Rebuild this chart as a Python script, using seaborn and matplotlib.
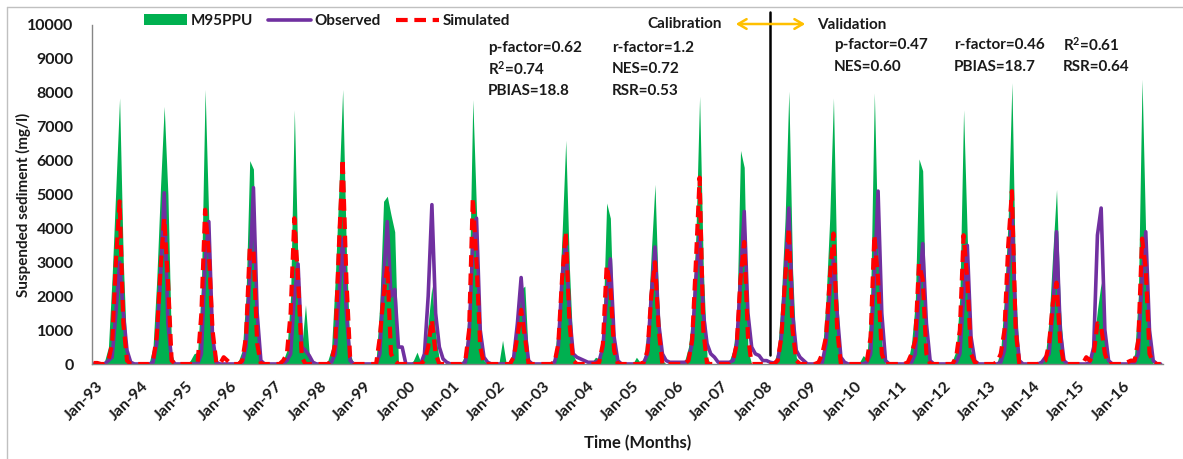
import numpy as np
import pandas as pd
import matplotlib
matplotlib.use("Agg")
import matplotlib.pyplot as plt
import matplotlib.transforms as mtransforms
import seaborn as sns
from matplotlib.patches import Patch, FancyArrowPatch
from matplotlib.lines import Line2D

# Monthly suspended sediment (mg/l), Jan 1993 - Dec 2016, one row per year (Jan..Dec)
years = list(range(1993, 2017))

upper_95ppu = [
    [0, 0, 0, 100, 500, 2600, 5200, 7850, 3000, 200, 0, 0],      # 1993
    [0, 0, 0, 50, 500, 2500, 5200, 7600, 5000, 300, 0, 0],       # 1994
    [0, 0, 100, 300, 350, 2300, 8100, 4200, 600, 0, 0, 0],       # 1995
    [0, 0, 0, 100, 400, 2000, 6000, 5750, 1200, 0, 0, 0],        # 1996
    [0, 0, 0, 100, 400, 2000, 7500, 2800, 500, 1750, 300, 0],    # 1997
    [0, 0, 0, 100, 450, 2500, 5200, 8100, 3300, 300, 0, 0],      # 1998
    [0, 0, 0, 0, 100, 1800, 4800, 4950, 4400, 3900, 0, 0],       # 1999
    [0, 0, 100, 350, 50, 300, 1200, 2300, 900, 100, 0, 0],       # 2000
    [0, 0, 0, 50, 300, 2000, 7800, 4500, 1300, 100, 0, 0],       # 2001
    [0, 0, 700, 0, 0, 400, 1200, 2200, 2300, 100, 0, 0],         # 2002
    [0, 0, 0, 0, 200, 1400, 3800, 6600, 2800, 300, 0, 0],        # 2003
    [0, 0, 50, 200, 150, 1100, 4750, 4300, 700, 0, 0, 0],        # 2004
    [0, 0, 200, 50, 150, 1100, 3300, 5300, 1800, 100, 0, 0],     # 2005
    [0, 0, 0, 100, 500, 1500, 3800, 7900, 2800, 200, 0, 0],      # 2006
    [0, 0, 0, 100, 400, 1300, 6300, 5800, 400, 0, 0, 0],         # 2007
    [0, 0, 0, 50, 400, 2000, 4300, 8050, 2800, 200, 0, 0],       # 2008
    [0, 0, 0, 50, 300, 1900, 4300, 7850, 2300, 100, 0, 0],       # 2009
    [0, 0, 50, 250, 150, 2000, 8000, 3300, 600, 0, 0, 0],        # 2010
    [0, 0, 0, 50, 600, 1800, 6050, 5700, 600, 0, 0, 0],          # 2011
    [0, 0, 0, 100, 400, 2000, 7500, 3700, 400, 0, 0, 0],         # 2012
    [0, 0, 0, 50, 400, 2000, 4300, 8300, 2300, 100, 0, 0],       # 2013
    [0, 0, 0, 100, 250, 1300, 3300, 5150, 1700, 100, 0, 0],      # 2014
    [0, 0, 0, 0, 100, 600, 1600, 2400, 900, 0, 0, 0],            # 2015
    [0, 0, 0, 50, 300, 2000, 8400, 3700, 600, 0, 0, 0],          # 2016
]

observed = [
    [0, 0, 0, 0, 100, 200, 1500, 3000, 1500, 400, 50, 0],        # 1993
    [0, 0, 0, 0, 50, 600, 2500, 5050, 1200, 100, 0, 0],          # 1994
    [0, 0, 0, 0, 0, 300, 3000, 4200, 800, 50, 0, 0],             # 1995
    [0, 0, 0, 0, 50, 500, 2500, 5200, 1500, 100, 0, 0],          # 1996
    [0, 0, 0, 0, 100, 300, 2000, 2950, 500, 400, 250, 50],       # 1997
    [0, 0, 0, 0, 50, 300, 2000, 3700, 1500, 100, 0, 0],          # 1998
    [0, 0, 0, 0, 0, 300, 2500, 4200, 2000, 2200, 500, 500],      # 1999
    [0, 0, 0, 0, 0, 300, 2000, 4700, 1500, 500, 150, 50],        # 2000
    [0, 0, 0, 0, 50, 800, 3500, 4300, 1000, 200, 50, 0],         # 2001
    [0, 0, 0, 0, 0, 200, 1200, 2550, 1000, 100, 0, 0],           # 2002
    [0, 0, 0, 0, 50, 500, 2500, 3600, 1500, 300, 200, 150],      # 2003
    [100, 50, 50, 50, 100, 500, 2000, 3100, 800, 100, 0, 0],     # 2004
    [0, 0, 0, 0, 50, 300, 2000, 3450, 1200, 300, 100, 50],       # 2005
    [50, 50, 50, 50, 100, 600, 2500, 3800, 1500, 600, 300, 200], # 2006
    [50, 50, 50, 50, 100, 600, 2500, 4500, 1500, 500, 300, 250], # 2007
    [100, 100, 50, 30, 100, 800, 2500, 4600, 1500, 400, 200, 100],  # 2008
    [0, 0, 0, 0, 50, 600, 2000, 3100, 1500, 200, 50, 0],         # 2009
    [0, 0, 0, 0, 50, 300, 2500, 5100, 1500, 100, 0, 0],          # 2010
    [0, 0, 0, 0, 50, 300, 2000, 3550, 1200, 100, 0, 0],          # 2011
    [0, 0, 0, 0, 50, 300, 2000, 3500, 800, 100, 0, 0],           # 2012
    [0, 0, 0, 0, 50, 400, 2500, 4600, 1200, 100, 0, 0],          # 2013
    [0, 0, 0, 50, 200, 300, 1500, 3900, 1000, 100, 0, 0],        # 2014
    [0, 0, 0, 0, 50, 500, 3800, 4600, 1000, 100, 0, 0],          # 2015
    [0, 0, 0, 0, 50, 300, 2500, 3900, 1000, 100, 0, 0],          # 2016
]

simulated = [
    [30, 30, 0, 0, 100, 600, 3000, 4800, 1200, 100, 0, 0],       # 1993
    [0, 0, 0, 0, 100, 800, 2800, 4300, 2500, 100, 0, 0],         # 1994
    [0, 0, 0, 0, 50, 1500, 4550, 3300, 1000, 50, 0, 200],        # 1995
    [100, 0, 0, 0, 100, 800, 3400, 3400, 600, 0, 0, 0],          # 1996
    [0, 0, 0, 100, 300, 1500, 4300, 2500, 200, 0, 0, 0],         # 1997
    [0, 0, 0, 0, 100, 600, 3500, 6050, 2500, 200, 0, 0],         # 1998
    [0, 0, 0, 0, 0, 800, 2000, 2900, 300, 100, 0, 0],            # 1999
    [0, 0, 0, 0, 0, 100, 500, 1300, 300, 0, 0, 0],               # 2000
    [0, 0, 0, 0, 100, 1000, 4900, 3000, 500, 0, 0, 0],           # 2001
    [0, 0, 0, 0, 0, 200, 800, 1600, 800, 0, 0, 0],               # 2002
    [0, 0, 0, 0, 50, 600, 2500, 3900, 1200, 100, 0, 0],          # 2003
    [0, 0, 0, 0, 50, 600, 2900, 2300, 400, 0, 0, 0],             # 2004
    [0, 0, 0, 0, 50, 400, 2000, 3000, 1000, 0, 0, 0],            # 2005
    [0, 0, 0, 0, 100, 700, 3000, 5500, 1000, 0, 0, 0],           # 2006
    [0, 0, 0, 0, 100, 600, 2500, 3600, 800, 0, 0, 0],            # 2007
    [0, 0, 0, 0, 100, 800, 2500, 4000, 1000, 100, 0, 0],         # 2008
    [0, 0, 0, 50, 300, 800, 2500, 3850, 1000, 0, 0, 0],          # 2009
    [0, 0, 0, 0, 100, 800, 3800, 2500, 300, 0, 0, 0],            # 2010
    [0, 0, 0, 50, 300, 700, 2950, 2500, 300, 0, 0, 0],           # 2011
    [0, 0, 0, 0, 200, 1000, 3800, 2500, 300, 50, 0, 0],          # 2012
    [0, 0, 0, 50, 300, 1000, 3500, 5100, 1000, 0, 0, 0],         # 2013
    [0, 0, 0, 50, 100, 600, 1800, 2400, 600, 0, 0, 0],           # 2014
    [0, 0, 0, 200, 100, 300, 1200, 1100, 300, 0, 0, 0],          # 2015
    [0, 0, 50, 100, 100, 700, 3700, 2800, 300, 50, 0, 0],        # 2016
]

tick_labels = [f"Jan-{y % 100:02d}" for y in years]
split_month = 182          # calibration / validation boundary (month index)

calib_stats = [("p-factor=0.62", "r-factor=1.2"),
               ("R$^2$=0.74", "NES=0.72"),
               ("PBIAS=18.8", "RSR=0.53")]
valid_stats = [("p-factor=0.47", "r-factor=0.46", "R$^2$=0.61"),
               ("NES=0.60", "PBIAS=18.7", "RSR=0.64")]

GREEN, PURPLE, RED, GOLD = "#00B050", "#7030A0", "#FF0000", "#FFC000"
TXT = "#1a1a1a"
DASH = (0, (2.8, 1.6))

sns.set_style("white")
plt.rcParams["font.family"] = ["Lato", "DejaVu Sans"]
plt.rcParams["font.weight"] = "bold"
plt.rcParams["mathtext.default"] = "regular"

W, H = 1183, 459
fig = plt.figure(figsize=(W / 100, H / 100), dpi=100)
ax = fig.add_axes([91.7 / W, 1 - 364 / H, (1162.5 - 91.7) / W, (364 - 25) / H])

df = pd.DataFrame({
    "month": np.arange(len(years) * 12),
    "upper": np.ravel(upper_95ppu),
    "Observed": np.ravel(observed),
    "Simulated": np.ravel(simulated),
})

ax.fill_between(df["month"], 0, df["upper"], color=GREEN, linewidth=0, zorder=1)
sns.lineplot(data=df, x="month", y="Observed", ax=ax, color=PURPLE,
             linewidth=2.6, zorder=2)
sns.lineplot(data=df, x="month", y="Simulated", ax=ax, color=RED,
             linewidth=3.0, linestyle=DASH, zorder=3)

ax.set_xlim(-0.5, len(df) - 0.5)
ax.set_ylim(0, 10000)
ax.set_yticks(np.arange(0, 10001, 1000))
ax.set_yticklabels([str(v) for v in range(0, 10001, 1000)])
xt = np.arange(0, len(df) + 1, 12) - 0.5
ax.set_xticks(xt)
ax.set_xticklabels(tick_labels + [""], rotation=45, ha="right",
                   rotation_mode="anchor")

for s in ["top", "right"]:
    ax.spines[s].set_visible(False)
for s in ["left", "bottom"]:
    ax.spines[s].set_color("#868686")
    ax.spines[s].set_linewidth(1.0)
ax.tick_params(axis="both", colors="#868686", length=4, width=1,
               labelcolor=TXT, direction="out")
ax.tick_params(axis="x", length=5, pad=6, labelsize=11.5)
ax.tick_params(axis="y", pad=9, labelsize=11.5)
shift = mtransforms.ScaledTranslation(5 / 100, 0, fig.dpi_scale_trans)
for lab in ax.get_xticklabels():
    lab.set_fontweight("bold")
    lab.set_transform(lab.get_transform() + shift)
for lab in ax.get_yticklabels():
    lab.set_fontweight("bold")

ax.set_xlabel("Time (Months)", fontsize=12, fontweight="bold", color=TXT)
ax.set_ylabel("Suspended sediment (mg/l)", fontsize=11, fontweight="bold", color=TXT)
ax.xaxis.set_label_coords(0.51, -0.21)
ax.yaxis.set_label_coords(-0.057, 0.47)

# calibration / validation divider
ax.axvline(split_month, ymin=0.027, ymax=1.038, color="black", lw=1.8,
           clip_on=False, zorder=4)


def fx(px):
    return px / W


def fy(py):
    return 1 - py / H


tkw = dict(fontsize=11, fontweight="bold", color=TXT, va="center", ha="left")
fig.text(fx(647), fy(24), "Calibration", **tkw)
fig.text(fx(817), fy(25), "Validation", **tkw)
fig.add_artist(FancyArrowPatch(
    (fx(733), fy(24)), (fx(808), fy(24)), transform=fig.transFigure,
    arrowstyle="<->,head_length=6,head_width=3.5", color=GOLD, lw=1.8))

for row, (a, b) in enumerate(calib_stats):
    y = [48, 69, 91][row]
    fig.text(fx(488), fy(y), a, **tkw)
    fig.text(fx(612), fy(y), b, **tkw)
for row, vals in enumerate(valid_stats):
    y = [45, 67][row]
    for xpx, t in zip([834, 954, 1063], vals):
        fig.text(fx(xpx), fy(y), t, **tkw)

handles = [
    Patch(facecolor=GREEN, edgecolor="none", label="M95PPU"),
    Line2D([], [], color=PURPLE, lw=2.6, label="Observed"),
    Line2D([], [], color=RED, lw=3.0, linestyle=DASH, label="Simulated"),
]
leg = fig.legend(handles=handles, loc="center left", ncol=3, frameon=False,
                 bbox_to_anchor=(fx(130), fy(21)), handlelength=2.8,
                 handleheight=0.75, handletextpad=0.25, columnspacing=1.0,
                 prop={"weight": "bold", "size": 11})
for t in leg.get_texts():
    t.set_color(TXT)

# outer chart border (top and left edges)
fig.add_artist(Line2D([fx(7), 1], [fy(7), fy(7)], transform=fig.transFigure,
                      color="#c0c0c0", lw=1))
fig.add_artist(Line2D([fx(7), fx(7)], [0, fy(7)], transform=fig.transFigure,
                      color="#c0c0c0", lw=1))

fig.savefig("out.png", dpi=100)
